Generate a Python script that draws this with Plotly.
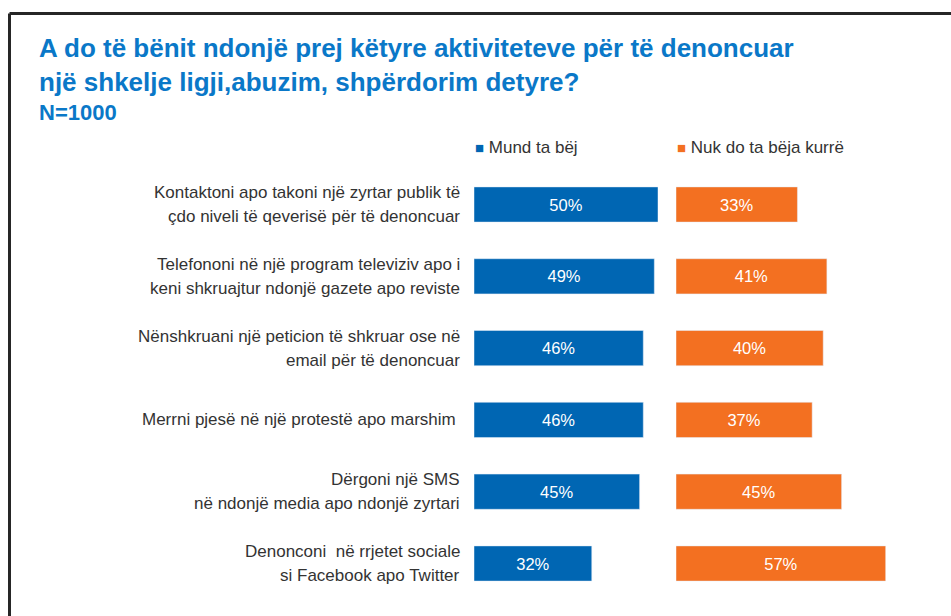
import plotly.graph_objects as go

# ---- data ----
categories_line1 = [
    "Kontaktoni apo takoni një zyrtar publik të",
    "Telefononi në një program televiziv apo i",
    "Nënshkruani një peticion të shkruar ose në",
    "Merrni pjesë në një protestë apo marshim ",
    "Dërgoni një SMS",
    "Denonconi  në rrjetet sociale",
]
categories_line2 = [
    "çdo niveli të qeverisë për të denoncuar",
    "keni shkruajtur ndonjë gazete apo reviste",
    "email për të denoncuar",
    "",
    "në ndonjë media apo ndonjë zyrtari",
    "si Facebook apo Twitter",
]
mund = [50, 49, 46, 46, 45, 32]
nuk = [33, 41, 40, 37, 45, 57]
series_names = ["Mund ta bëj", "Nuk do ta bëja kurrë"]
title_lines = [
    "A do të bënit ndonjë prej këtyre aktiviteteve për të denoncuar",
    "një shkelje ligji,abuzim, shpërdorim detyre?",
    "N=1000",
]

BLUE = "#0066B3"
ORANGE = "#F37021"
TITLE_BLUE = "#0A78C8"
TEXT = "#333333"
W, H = 951, 616
PX = 3.68  # pixels per percent

cat_idx = list(range(len(mund)))

def px(x):
    return x / W

def py(y):
    return 1 - y / H

fig = go.Figure()
fig.add_trace(go.Bar(
    y=cat_idx, x=mund, orientation="h", marker_color=BLUE, width=0.49,
    text=[f"{v}%" for v in mund], textposition="inside", insidetextanchor="middle",
    textfont=dict(color="white", size=16.5, family="Liberation Sans"),
    xaxis="x", yaxis="y", name=series_names[0], showlegend=False, hoverinfo="skip",
))
fig.add_trace(go.Bar(
    y=cat_idx, x=nuk, orientation="h", marker_color=ORANGE, width=0.49,
    text=[f"{v}%" for v in nuk], textposition="inside", insidetextanchor="middle",
    textfont=dict(color="white", size=16.5, family="Liberation Sans"),
    xaxis="x2", yaxis="y2", name=series_names[1], showlegend=False, hoverinfo="skip",
))

xmax1 = max(mund)
xmax2 = max(nuk)
x0_blue, x0_or = 474, 676
y_top = 204.5 - 71.8 / 2
y_bot = y_top + 71.8 * len(mund)

fig.update_layout(
    width=W, height=H,
    margin=dict(l=0, r=0, t=0, b=0),
    paper_bgcolor="white", plot_bgcolor="rgba(0,0,0,0)",
    xaxis=dict(domain=[px(x0_blue), px(x0_blue + PX * xmax1)], range=[0, xmax1],
               visible=False, fixedrange=True),
    xaxis2=dict(domain=[px(x0_or), px(x0_or + PX * xmax2)], range=[0, xmax2],
                visible=False, fixedrange=True),
    yaxis=dict(domain=[py(y_bot), py(y_top)], range=[len(mund) - 0.5, -0.5],
               visible=False, fixedrange=True),
    yaxis2=dict(domain=[py(y_bot), py(y_top)], range=[len(mund) - 0.5, -0.5],
                visible=False, fixedrange=True, anchor="x2"),
    showlegend=False,
    font=dict(family="Liberation Sans", color=TEXT),
)

ann = []
# title
title_y = [48, 82, 112]
title_sizes = [26, 26, 22]
for t, yy, sz in zip(title_lines, title_y, title_sizes):
    ann.append(dict(text=f"<b>{t}</b>", x=px(37), y=py(yy), xref="paper", yref="paper",
                    xanchor="left", yanchor="middle", showarrow=False,
                    font=dict(size=sz, color=TITLE_BLUE, family="Liberation Sans")))
# legend
for name, col, xx in zip(series_names, [BLUE, ORANGE], [x0_blue, x0_or]):
    ann.append(dict(text=f"<span style='color:{col};font-size:15px'>■</span> {name}", x=px(xx - 1), y=py(147),
                    xref="paper", yref="paper", xanchor="left", yanchor="middle",
                    showarrow=False, font=dict(size=17, color=TEXT)))
# category labels
LBL = 17
for i, (l1, l2) in enumerate(zip(categories_line1, categories_line2)):
    if l2:
        ann.append(dict(text=l1, x=px(462), y=i, xref="paper", yref="y", xanchor="right",
                        yanchor="middle", yshift=12, showarrow=False, font=dict(size=LBL, color=TEXT)))
        ann.append(dict(text=l2, x=px(462), y=i, xref="paper", yref="y", xanchor="right",
                        yanchor="middle", yshift=-12, showarrow=False, font=dict(size=LBL, color=TEXT)))
    else:
        ann.append(dict(text=l1, x=px(462), y=i, xref="paper", yref="y", xanchor="right",
                        yanchor="middle", showarrow=False, font=dict(size=LBL, color=TEXT)))
fig.update_layout(annotations=ann)

# frame
fig.add_shape(type="line", xref="paper", yref="paper", x0=px(9.5), x1=1.02, y0=py(13.5), y1=py(13.5),
              line=dict(color="#262626", width=3))
fig.add_shape(type="line", xref="paper", yref="paper", x0=px(9.5), x1=px(9.5), y0=py(13.5), y1=-0.02,
              line=dict(color="#262626", width=3))

fig.write_html("out.html",
               config={"displayModeBar": False},
               post_script="document.body.style.margin='0';document.body.style.overflow='hidden';")
